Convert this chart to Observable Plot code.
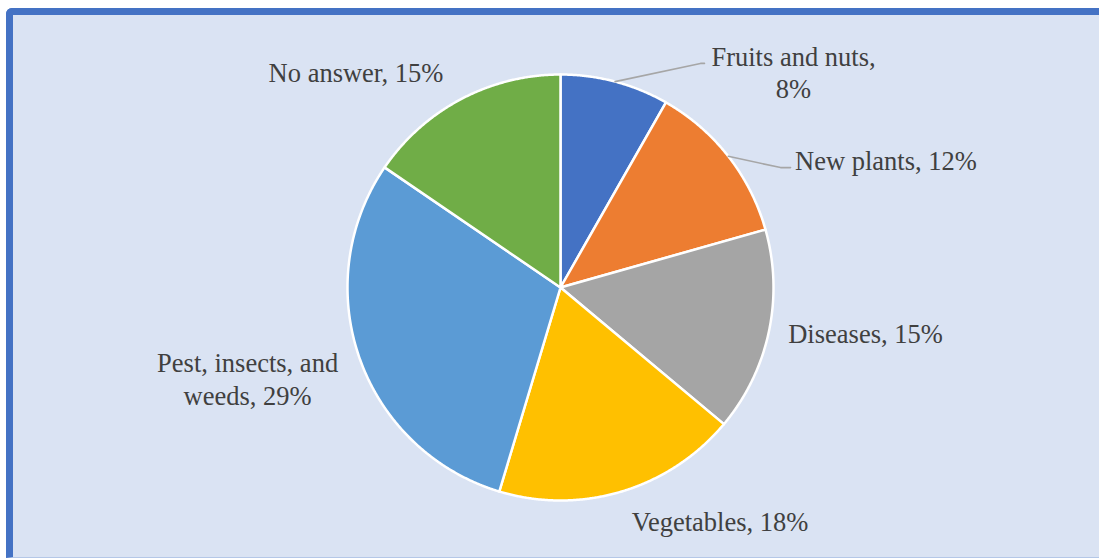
<!DOCTYPE html>
<html><head><meta charset="utf-8">
<script src="https://cdn.jsdelivr.net/npm/d3@7"></script>
<script src="https://cdn.jsdelivr.net/npm/@observablehq/plot@0.6"></script>
<style>
html,body{margin:0;padding:0;background:#fff;overflow:hidden;width:1099px;height:560px;}
#frame{position:absolute;left:6px;top:8px;width:1100px;height:542px;background:#dae3f3;border-left:7px solid #4472c4;border-top:7px solid #4472c4;border-top-left-radius:6px;border-bottom:1px solid #b4c7e7;}
#frame svg{display:block;}
</style></head><body><div id="frame"></div>
<script>
// ---- data ----
const categories = ["Fruits and nuts", "New plants", "Diseases", "Vegetables", "Pest, insects, and weeds", "No answer"];
const values = [8, 12, 15, 18, 29, 15];
const labels = ["Fruits and nuts,\n8%", "New plants, 12%", "Diseases, 15%", "Vegetables, 18%", "Pest, insects, and\nweeds, 29%", "No answer, 15%"];
const colors = ["#4472c4", "#ed7d31", "#a5a5a5", "#ffc000", "#5b9bd5", "#70ad47"];

// ---- layout (label centers in pie-radius units, x right / y up) ----
const labelPos = [[1.094, 1.012], [1.528, 0.602], [1.432, -0.214], [0.749, -1.096], [-1.469, -0.425], [-0.960, 1.015]];
const leaders = {0: [[0.657, 1.052], [0.676, 1.052]], 1: [[1.033, 0.563], [1.080, 0.563]]};

const total = d3.sum(values);
let acc = 0;
const slices = categories.map((c, i) => {
  const a0 = acc / total * 2 * Math.PI; acc += values[i];
  const a1 = acc / total * 2 * Math.PI;
  return {c, a0, a1, mid: (a0 + a1) / 2};
});
const pts = slices.flatMap(s => {
  const n = Math.max(2, Math.ceil((s.a1 - s.a0) / 0.005));
  const arr = [{c: s.c, x: 0, y: 0}];
  for (let k = 0; k <= n; k++) {
    const a = s.a0 + (s.a1 - s.a0) * k / n;
    arr.push({c: s.c, x: Math.sin(a), y: Math.cos(a)});
  }
  return arr;
});
const labelData = categories.map((c, i) => ({c, text: labels[i], x: labelPos[i][0], y: labelPos[i][1]}));
const leaderPts = Object.entries(leaders).flatMap(([i, p]) => {
  const s = slices[+i];
  return [{k: i, x: Math.sin(s.mid), y: Math.cos(s.mid)}, ...p.map(q => ({k: i, x: q[0], y: q[1]}))];
});

const chart = Plot.plot({
  width: 1086, height: 542,
  margin: 0,
  style: {background: "transparent", overflow: "visible"},
  x: {domain: [-1, 1], range: [334, 760], axis: null},
  y: {domain: [-1, 1], range: [485, 59], axis: null},
  color: {domain: categories, range: colors},
  marks: [
    Plot.line(pts, {x: "x", y: "y", z: "c", fill: "c", stroke: "white", strokeWidth: 2.5, curve: "linear-closed", strokeLinejoin: "round"}),
    Plot.line(leaderPts, {x: "x", y: "y", z: "k", stroke: "#a6a6a6", strokeWidth: 1.6}),
    Plot.text(labelData, {x: "x", y: "y", text: "text", fill: "#404040", fontSize: 26.5, fontFamily: "Liberation Serif", lineHeight: 1.22, textAnchor: "middle"})
  ]
});
document.getElementById("frame").appendChild(chart);
</script>
</body></html>
